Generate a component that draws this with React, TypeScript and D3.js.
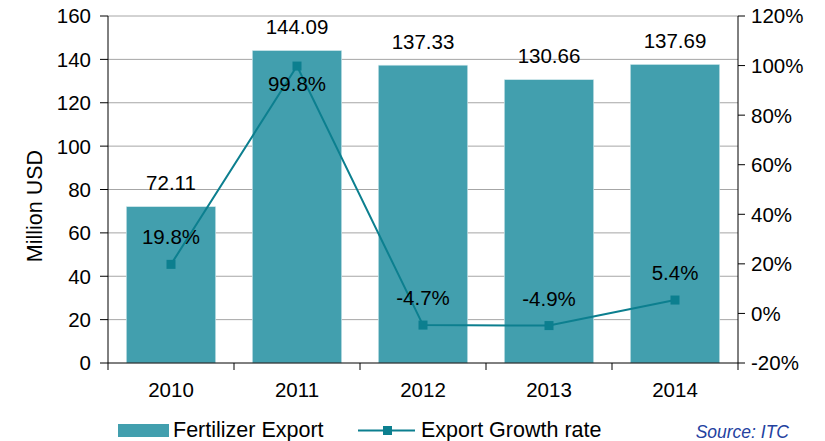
import React from "react";
import * as d3 from "d3";

const years = ["2010", "2011", "2012", "2013", "2014"];
const exportValues = [72.11, 144.09, 137.33, 130.66, 137.69];
const growthRates = [19.8, 99.8, -4.7, -4.9, 5.4];
const leftTicks = [0, 20, 40, 60, 80, 100, 120, 140, 160];
const rightTicks = [-20, 0, 20, 40, 60, 80, 100, 120];

const W = 825, H = 441;
const L = 108, R = 738, T = 16, B = 363;
const BAR = "#429fae";
const LINE = "#0c7f8f";
const FONT = "Liberation Sans, Arial, sans-serif";
const FS = 20.5;
const FL = 21.5;

export default function App() {
  const x = d3.scaleBand().domain(years).range([L, R]).paddingInner(0.29).paddingOuter(0.145);
  const band = d3.scaleBand().domain(years).range([L, R]);
  const y = d3.scaleLinear().domain([0, 160]).range([B, T]);
  const y2 = d3.scaleLinear().domain([-20, 120]).range([B, T]);
  const cx = (d: string) => (band(d) as number) + band.bandwidth() / 2;
  const line = d3.line<number>().x((_, i) => cx(years[i])).y((v) => y2(v));

  return (
    <svg width={W} height={H} style={{ position: "absolute", left: 0, top: 0, fontFamily: FONT }}>
      <rect width={W} height={H} fill="#fff" />
      {leftTicks.map((t) => (
        <g key={"g" + t}>
          {t > 0 && <line x1={L} x2={R} y1={y(t)} y2={y(t)} stroke="#a6a6a6" strokeWidth={1} />}
          <line x1={L - 8} x2={L} y1={y(t)} y2={y(t)} stroke="#000" />
          <text x={L - 17} y={y(t)} dy="0.36em" textAnchor="end" fontSize={FS}>{t}</text>
        </g>
      ))}
      {rightTicks.map((t) => (
        <g key={"r" + t}>
          <line x1={R} x2={R + 7} y1={y2(t)} y2={y2(t)} stroke="#000" />
          <text x={R + 13} y={y2(t)} dy="0.36em" textAnchor="start" fontSize={FS}>{t}%</text>
        </g>
      ))}
      {exportValues.map((v, i) => (
        <g key={"b" + i}>
          <rect x={x(years[i])} y={y(v)} width={x.bandwidth()} height={B - y(v)} fill={BAR} stroke="#d8ecef" strokeWidth={0.6} />
          <text x={cx(years[i])} y={y(v) - 16.5} textAnchor="middle" fontSize={FS}>{v.toFixed(2)}</text>
        </g>
      ))}
      <line x1={L} x2={L} y1={T} y2={B} stroke="#000" />
      <line x1={R} x2={R} y1={T} y2={B} stroke="#000" />
      <line x1={L} x2={R} y1={B} y2={B} stroke="#000" />
      {years.map((d, i) => (
        <line key={"bt" + i} x1={band(d)} x2={band(d)} y1={B} y2={B + 7} stroke="#000" />
      ))}
      <line x1={R} x2={R} y1={B} y2={B + 7} stroke="#000" />
      {years.map((d) => (
        <text key={"xl" + d} x={cx(d)} y={B + 34} textAnchor="middle" fontSize={FS}>{d}</text>
      ))}
      <path d={line(growthRates) as string} fill="none" stroke={LINE} strokeWidth={2} />
      {growthRates.map((v, i) => (
        <rect key={"m" + i} x={cx(years[i]) - 4.5} y={y2(v) - 4.5} width={9} height={9} fill={LINE} />
      ))}
      {growthRates.map((v, i) => (
        <text key={"gl" + i} x={cx(years[i])} y={i === 1 ? y2(v) + 25 : y2(v) - 20} textAnchor="middle" fontSize={FS}>
          {v.toFixed(1)}%
        </text>
      ))}
      <text transform={`translate(42,206) rotate(-90)`} textAnchor="middle" fontSize={FL}>Million USD</text>
      <rect x={118} y={424} width={51} height={13} fill={BAR} />
      <text x={173} y={437} fontSize={FL}>Fertilizer Export</text>
      <line x1={358} x2={415} y1={430.5} y2={430.5} stroke={LINE} strokeWidth={2} />
      <rect x={383} y={426} width={9} height={9} fill={LINE} />
      <text x={421} y={437} fontSize={FL}>Export Growth rate</text>
      <text x={789} y={438} textAnchor="end" fontSize={17.5} fontStyle="italic" fill="#2341a0">Source: ITC</text>
    </svg>
  );
}
